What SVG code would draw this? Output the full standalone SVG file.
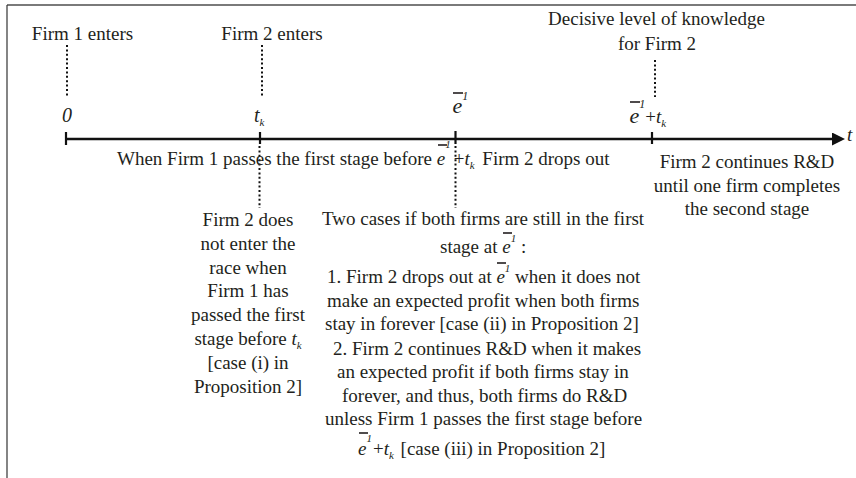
<svg xmlns="http://www.w3.org/2000/svg" width="856" height="478" viewBox="0 0 856 478">
<style>
text { font-family: "Liberation Serif", "Times New Roman", serif; font-size: 19px; fill: #231f20; }
.i { font-style: italic; }
.sup { font-style: italic; font-size: 11px; }
.sup2 { font-style: italic; font-size: 12px; }
.big { font-style: italic; font-size: 22px; }
.c { text-anchor: middle; }
.dot { stroke: #111; stroke-width: 2; stroke-dasharray: 2 2.4; fill: none; }
.bar { stroke: #231f20; stroke-width: 1.6; }
.tick { stroke: #111; stroke-width: 2.2; }
.frame-top { stroke: #7a7a7a; stroke-width: 2; }
.frame-left { stroke: #333; stroke-width: 1.2; }
</style>
<defs>
<marker id="ah" viewBox="0 0 13 13" refX="0" refY="6.5" markerWidth="13" markerHeight="13" markerUnits="userSpaceOnUse" orient="auto">
<path d="M0,0 L13,6.5 L0,13 z" fill="#111"/>
</marker>
</defs>
<rect x="0" y="0" width="856" height="478" fill="#fff"/>
<g id="frame">
<line class="frame-top" x1="7" y1="5" x2="856" y2="5"/>
<line class="frame-left" x1="7" y1="5" x2="7" y2="478"/>
</g>
<g id="connectors">
<line x1="66" y1="139" x2="832" y2="139" stroke="#111" stroke-width="2.5" marker-end="url(#ah)"/>
<line class="tick" x1="66" y1="132" x2="66" y2="145"/>
<line class="tick" x1="260" y1="132" x2="260" y2="144"/>
<line class="tick" x1="455.5" y1="131" x2="455.5" y2="144"/>
<line class="tick" x1="652" y1="132" x2="652" y2="144"/>
<line class="dot" x1="67" y1="45" x2="67" y2="97"/>
<line class="dot" x1="262" y1="45" x2="262" y2="97"/>
<line class="dot" x1="655" y1="60" x2="655" y2="97"/>
<line class="dot" x1="259.5" y1="146" x2="259.5" y2="208"/>
<line class="dot" x1="455.5" y1="146" x2="455.5" y2="208"/>
</g>
<g id="firm1-enters">
<text class="c" x="82.5" y="40">Firm 1 enters</text>
<text class="i c" x="67" y="122" style="font-size:20px">0</text>
</g>
<g id="firm2-enters">
<text class="c" x="272" y="40">Firm 2 enters</text>
<text x="254" y="122"><tspan class="i" style="font-size:20px">t</tspan><tspan class="sup" dy="4">k</tspan></text>
</g>
<g id="e-bar">
<text x="452.5" y="113"><tspan class="big">e</tspan><tspan class="sup2" dy="-13">1</tspan></text>
<line class="bar" x1="453" y1="93" x2="463" y2="93"/>
</g>
<g id="decisive">
<text class="c" x="656.5" y="25">Decisive level of knowledge</text>
<text class="c" x="657" y="50">for Firm 2</text>
<text x="629.5" y="123"><tspan class="big">e</tspan><tspan class="sup2" dy="-15">1</tspan><tspan dy="15">+</tspan><tspan class="i">t</tspan><tspan class="sup" dy="4">k</tspan></text>
<line class="bar" x1="630" y1="102" x2="640" y2="102"/>
</g>
<g id="axis-end">
<text class="i" x="847" y="141">t</text>
</g>
<g id="drop-out-note">
<text x="117" y="165">When Firm 1 passes the first stage before <tspan class="i">e</tspan><tspan class="sup" dy="-17">1</tspan><tspan dx="3" dy="17">+</tspan><tspan class="i">t</tspan><tspan class="sup" dy="4">k</tspan><tspan dx="3" dy="-4"> Firm 2 drops out</tspan></text>
<line class="bar" x1="438" y1="145" x2="447" y2="145"/>
</g>
<g id="continue-note">
<text class="c" x="747" y="168">Firm 2 continues R&amp;D</text>
<text class="c" x="747" y="192">until one firm completes</text>
<text class="c" x="747" y="215">the second stage</text>
</g>
<g id="case-i">
<text class="c" x="248" y="226">Firm 2 does</text>
<text class="c" x="248" y="249.8">not enter the</text>
<text class="c" x="248" y="273.6">race when</text>
<text class="c" x="248" y="297.4">Firm 1 has</text>
<text class="c" x="248" y="321.2">passed the first</text>
<text class="c" x="248" y="345">stage before <tspan class="i">t</tspan><tspan class="sup" dy="4">k</tspan></text>
<text class="c" x="248" y="368.8">[case (i) in</text>
<text class="c" x="248" y="392.6">Proposition 2]</text>
</g>
<g id="cases-ii-iii">
<text x="322" y="225">Two cases if both firms are still in the first</text>
<text x="440" y="253">stage at <tspan class="i">e</tspan><tspan class="sup" dy="-11">1</tspan><tspan dy="11"> :</tspan></text>
<line class="bar" x1="503" y1="233" x2="512" y2="233"/>
<text x="327" y="283">1. Firm 2 drops out at <tspan class="i">e</tspan><tspan class="sup" dy="-11">1</tspan><tspan dy="11"> when it does not</tspan></text>
<line class="bar" x1="497" y1="263" x2="506" y2="263"/>
<text x="327" y="307">make an expected profit when both firms</text>
<text x="325" y="330">stay in forever [case (ii) in Proposition 2]</text>
<text x="333" y="355">2. Firm 2 continues R&amp;D when it makes</text>
<text x="337" y="378">an expected profit if both firms stay in</text>
<text x="342" y="402">forever, and thus, both firms do R&amp;D</text>
<text x="325" y="425">unless Firm 1 passes the first stage before</text>
<text x="358" y="455"><tspan class="i">e</tspan><tspan class="sup" dy="-13">1</tspan><tspan dx="1" dy="13">+</tspan><tspan class="i">t</tspan><tspan class="sup" dy="4">k</tspan><tspan dx="2" dy="-4"> [case (iii) in Proposition 2]</tspan></text>
<line class="bar" x1="359" y1="433" x2="368" y2="433"/>
</g>
</svg>
